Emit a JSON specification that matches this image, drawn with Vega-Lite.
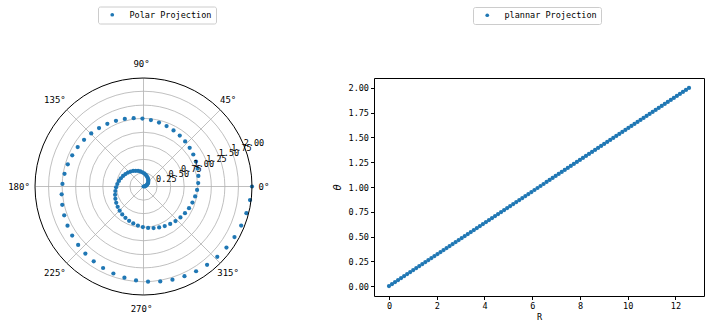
{
  "$schema": "https://vega.github.io/schema/vega-lite/v6.json",
  "background": "white",
  "padding": {"left": 8, "top": 6, "right": 5, "bottom": 4},
  "bounds": "flush",
  "spacing": 122,
  "config": {"font": "DejaVu Sans Mono", "view": {"stroke": null}},
  "datasets": {
    "spiral": [
      {"R":0,"theta":0},{"R":0.1269,"theta":0.0202},{"R":0.2539,"theta":0.0404},{"R":0.3808,"theta":0.0606},{"R":0.5077,"theta":0.0808},
      {"R":0.6347,"theta":0.1010},{"R":0.7616,"theta":0.1212},{"R":0.8885,"theta":0.1414},{"R":1.0155,"theta":0.1616},{"R":1.1424,"theta":0.1818},
      {"R":1.2693,"theta":0.2020},{"R":1.3963,"theta":0.2222},{"R":1.5232,"theta":0.2424},{"R":1.6501,"theta":0.2626},{"R":1.7771,"theta":0.2828},
      {"R":1.9040,"theta":0.3030},{"R":2.0309,"theta":0.3232},{"R":2.1579,"theta":0.3434},{"R":2.2848,"theta":0.3636},{"R":2.4117,"theta":0.3838},
      {"R":2.5387,"theta":0.4040},{"R":2.6656,"theta":0.4242},{"R":2.7925,"theta":0.4444},{"R":2.9195,"theta":0.4646},{"R":3.0464,"theta":0.4848},
      {"R":3.1733,"theta":0.5051},{"R":3.3003,"theta":0.5253},{"R":3.4272,"theta":0.5455},{"R":3.5541,"theta":0.5657},{"R":3.6811,"theta":0.5859},
      {"R":3.8080,"theta":0.6061},{"R":3.9349,"theta":0.6263},{"R":4.0619,"theta":0.6465},{"R":4.1888,"theta":0.6667},{"R":4.3157,"theta":0.6869},
      {"R":4.4427,"theta":0.7071},{"R":4.5696,"theta":0.7273},{"R":4.6965,"theta":0.7475},{"R":4.8235,"theta":0.7677},{"R":4.9504,"theta":0.7879},
      {"R":5.0773,"theta":0.8081},{"R":5.2043,"theta":0.8283},{"R":5.3312,"theta":0.8485},{"R":5.4581,"theta":0.8687},{"R":5.5851,"theta":0.8889},
      {"R":5.7120,"theta":0.9091},{"R":5.8389,"theta":0.9293},{"R":5.9659,"theta":0.9495},{"R":6.0928,"theta":0.9697},{"R":6.2197,"theta":0.9899},
      {"R":6.3467,"theta":1.0101},{"R":6.4736,"theta":1.0303},{"R":6.6005,"theta":1.0505},{"R":6.7275,"theta":1.0707},{"R":6.8544,"theta":1.0909},
      {"R":6.9813,"theta":1.1111},{"R":7.1083,"theta":1.1313},{"R":7.2352,"theta":1.1515},{"R":7.3621,"theta":1.1717},{"R":7.4891,"theta":1.1919},
      {"R":7.6160,"theta":1.2121},{"R":7.7429,"theta":1.2323},{"R":7.8699,"theta":1.2525},{"R":7.9968,"theta":1.2727},{"R":8.1237,"theta":1.2929},
      {"R":8.2507,"theta":1.3131},{"R":8.3776,"theta":1.3333},{"R":8.5045,"theta":1.3535},{"R":8.6315,"theta":1.3737},{"R":8.7584,"theta":1.3939},
      {"R":8.8853,"theta":1.4141},{"R":9.0123,"theta":1.4343},{"R":9.1392,"theta":1.4545},{"R":9.2661,"theta":1.4747},{"R":9.3931,"theta":1.4949},
      {"R":9.5200,"theta":1.5152},{"R":9.6469,"theta":1.5354},{"R":9.7739,"theta":1.5556},{"R":9.9008,"theta":1.5758},{"R":10.0277,"theta":1.5960},
      {"R":10.1546,"theta":1.6162},{"R":10.2816,"theta":1.6364},{"R":10.4085,"theta":1.6566},{"R":10.5354,"theta":1.6768},{"R":10.6624,"theta":1.6970},
      {"R":10.7893,"theta":1.7172},{"R":10.9162,"theta":1.7374},{"R":11.0432,"theta":1.7576},{"R":11.1701,"theta":1.7778},{"R":11.2970,"theta":1.7980},
      {"R":11.4240,"theta":1.8182},{"R":11.5509,"theta":1.8384},{"R":11.6778,"theta":1.8586},{"R":11.8048,"theta":1.8788},{"R":11.9317,"theta":1.8990},
      {"R":12.0586,"theta":1.9192},{"R":12.1856,"theta":1.9394},{"R":12.3125,"theta":1.9596},{"R":12.4394,"theta":1.9798},{"R":12.5664,"theta":2.0}
    ]
  },
  "hconcat": [
    {
      "width": 217,
      "height": 217,
      "layer": [
        {
          "data": {"values": [{"r":0.25},{"r":0.5},{"r":0.75},{"r":1.0},{"r":1.25},{"r":1.5},{"r":1.75}]},
          "transform": [{"calculate": "0", "as": "cx"}],
          "mark": {"type": "point", "shape": "circle", "filled": false, "stroke": "#b0b0b0", "strokeWidth": 0.8, "opacity": 1},
          "encoding": {
            "x": {"field": "cx", "type": "quantitative", "scale": {"domain": [-2, 2], "nice": false, "zero": false}, "axis": null},
            "y": {"field": "cx", "type": "quantitative", "scale": {"domain": [-2, 2], "nice": false, "zero": false}, "axis": null},
            "size": {"field": "r", "type": "quantitative", "scale": {"type": "pow", "exponent": 2, "domain": [0, 2], "range": [0, 47089]}, "legend": null}
          }
        },
        {
          "data": {"values": [{"a":0},{"a":45},{"a":90},{"a":135},{"a":180},{"a":225},{"a":270},{"a":315}]},
          "transform": [
            {"calculate": "0", "as": "cx"},
            {"calculate": "2*cos(datum.a*PI/180)", "as": "ex"},
            {"calculate": "2*sin(datum.a*PI/180)", "as": "ey"}
          ],
          "mark": {"type": "rule", "stroke": "#b0b0b0", "strokeWidth": 0.8},
          "encoding": {
            "x": {"field": "cx", "type": "quantitative"},
            "y": {"field": "cx", "type": "quantitative"},
            "x2": {"field": "ex"},
            "y2": {"field": "ey"}
          }
        },
        {
          "data": {"name": "spiral"},
          "transform": [
            {"calculate": "datum.theta*cos(datum.R)", "as": "px"},
            {"calculate": "datum.theta*sin(datum.R)", "as": "py"},
            {"calculate": "'Polar Projection'", "as": "series"}
          ],
          "mark": {"type": "point", "filled": true, "size": 18, "opacity": 1},
          "encoding": {
            "x": {"field": "px", "type": "quantitative"},
            "y": {"field": "py", "type": "quantitative"},
            "color": {
              "field": "series", "type": "nominal",
              "scale": {"range": ["#1f77b4"]},
              "legend": {
                "orient": "none", "legendX": 63, "legendY": -71.5, "title": null,
                "padding": 4, "strokeColor": "#cccccc", "fillColor": "white", "cornerRadius": 2,
                "labelFont": "DejaVu Sans Mono", "labelFontSize": 8.5, "labelColor": "black",
                "symbolType": "circle", "symbolSize": 14, "symbolOffset": 6, "labelOffset": 13
              }
            }
          }
        },
        {
          "data": {"values": [{"r":2}]},
          "transform": [{"calculate": "0", "as": "cx"}],
          "mark": {"type": "point", "shape": "circle", "filled": false, "stroke": "black", "strokeWidth": 1, "opacity": 1},
          "encoding": {
            "x": {"field": "cx", "type": "quantitative"},
            "y": {"field": "cx", "type": "quantitative"},
            "size": {"field": "r", "type": "quantitative", "legend": null}
          }
        },
        {
          "data": {"values": [{"r":0.25},{"r":0.5},{"r":0.75},{"r":1.0},{"r":1.25},{"r":1.5},{"r":1.75},{"r":2.0}]},
          "transform": [
            {"calculate": "datum.r*cos(22.5*PI/180)", "as": "lx"},
            {"calculate": "datum.r*sin(22.5*PI/180)", "as": "ly"},
            {"calculate": "format(datum.r, '.2f')", "as": "lab"}
          ],
          "mark": {"type": "text", "align": "left", "baseline": "middle", "dy": -2, "font": "DejaVu Sans Mono", "fontSize": 8.5, "color": "black"},
          "encoding": {
            "x": {"field": "lx", "type": "quantitative"},
            "y": {"field": "ly", "type": "quantitative"},
            "text": {"field": "lab", "type": "nominal"}
          }
        },
        {
          "data": {"values": [{"a":0,"t":"0°"},{"a":45,"t":"45°"},{"a":90,"t":"90°"},{"a":135,"t":"135°"},{"a":180,"t":"180°"},{"a":225,"t":"225°"},{"a":270,"t":"270°"},{"a":315,"t":"315°"}]},
          "transform": [
            {"calculate": "2.258*cos(datum.a*PI/180)", "as": "tx"},
            {"calculate": "2.258*sin(datum.a*PI/180)", "as": "ty"}
          ],
          "mark": {"type": "text", "align": "center", "baseline": "middle", "dx": -2, "font": "DejaVu Sans Mono", "fontSize": 9, "color": "black"},
          "encoding": {
            "x": {"field": "tx", "type": "quantitative"},
            "y": {"field": "ty", "type": "quantitative"},
            "text": {"field": "t", "type": "nominal"}
          }
        }
      ]
    },
    {
      "width": 330,
      "height": 218,
      "data": {"name": "spiral"},
      "transform": [{"calculate": "'plannar Projection'", "as": "series"}],
      "layer": [
        {
          "mark": {"type": "point", "filled": true, "size": 18, "opacity": 1},
          "encoding": {
            "x": {
              "field": "R", "type": "quantitative",
              "scale": {"domain": [-0.628, 13.195], "nice": false, "zero": false},
              "axis": {
                "values": [0, 2, 4, 6, 8, 10, 12], "title": "R", "grid": false, "domain": true, "domainColor": "black", "domainWidth": 1,
                "tickSize": 3.5, "tickColor": "black", "labelColor": "black",
                "labelFont": "DejaVu Sans Mono", "labelFontSize": 8.5, "labelPadding": 2,
                "titleFont": "DejaVu Sans Mono", "titleFontSize": 8.5, "titleFontWeight": "normal", "titleColor": "black", "titlePadding": 2
              }
            },
            "y": {
              "field": "theta", "type": "quantitative",
              "scale": {"domain": [-0.1, 2.1], "nice": false, "zero": false},
              "axis": {
                "values": [0, 0.25, 0.5, 0.75, 1, 1.25, 1.5, 1.75, 2], "format": ".2f", "title": "θ", "grid": false, "domain": true, "domainColor": "black", "domainWidth": 1,
                "tickSize": 3.5, "tickColor": "black", "labelColor": "black",
                "labelFont": "DejaVu Sans Mono", "labelFontSize": 8.5, "labelPadding": 2,
                "titleFont": "DejaVu Sans", "titleFontStyle": "italic", "titleFontSize": 10, "titleFontWeight": "normal", "titleColor": "black", "titlePadding": 6
              }
            },
            "color": {
              "field": "series", "type": "nominal",
              "scale": {"range": ["#1f77b4"]},
              "legend": {
                "orient": "none", "legendX": 99, "legendY": -71, "title": null,
                "padding": 4, "strokeColor": "#cccccc", "fillColor": "white", "cornerRadius": 2,
                "labelFont": "DejaVu Sans Mono", "labelFontSize": 8.5, "labelColor": "black",
                "symbolType": "circle", "symbolSize": 14, "symbolOffset": 6, "labelOffset": 13
              }
            }
          }
        },
        {
          "mark": {"type": "point", "opacity": 0},
          "encoding": {
            "x": {"field": "R", "type": "quantitative", "axis": {"orient": "top", "labels": false, "ticks": false, "grid": false, "title": null, "domain": true, "domainColor": "black", "domainWidth": 1}},
            "y": {"field": "theta", "type": "quantitative", "axis": {"orient": "right", "labels": false, "ticks": false, "grid": false, "title": null, "domain": true, "domainColor": "black", "domainWidth": 1}}
          }
        }
      ],
      "resolve": {"axis": {"x": "independent", "y": "independent"}}
    }
  ],
  "resolve": {"scale": {"color": "independent"}, "legend": {"color": "independent"}}
}
